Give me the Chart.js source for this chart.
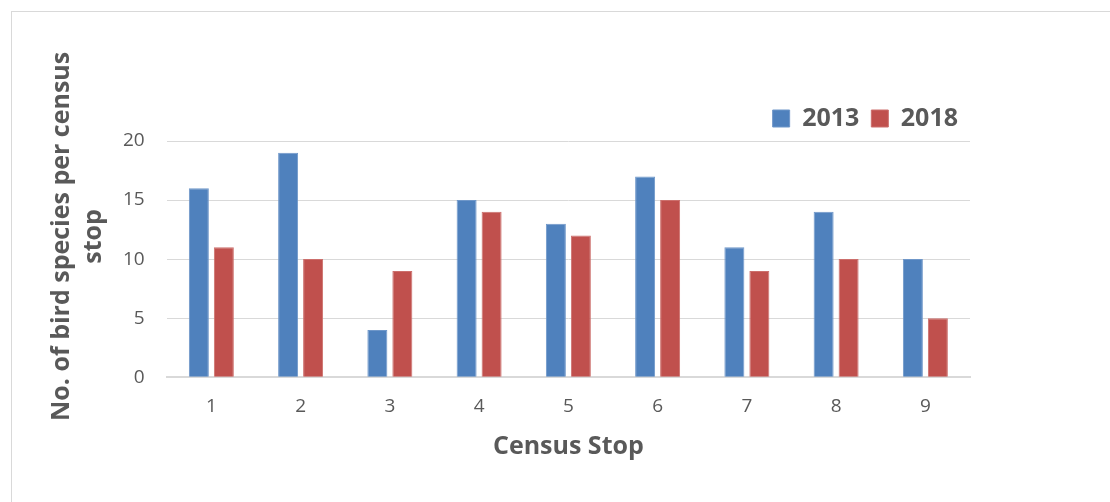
<!DOCTYPE html>
<html>
<head>
<meta charset="utf-8">
<script src="https://cdn.jsdelivr.net/npm/chart.js@4/dist/chart.umd.min.js"></script>
<style>
    html, body { margin: 0; padding: 0; background: #fff; overflow: hidden; }
    #frame { position: absolute; left: 11px; top: 11px; width: 1200px; height: 600px; border: 1px solid #d9d9d9; }
    #wrap { position: absolute; left: 0; top: 0; width: 1110px; height: 502px; }
</style>
</head>
<body>
<div id="frame"></div>
<div id="wrap"><canvas id="birdChart"></canvas></div>
<script>
// census stops and species counts
const stops = ['1', '2', '3', '4', '5', '6', '7', '8', '9'];
const species2013 = [16, 19, 4, 15, 13, 17, 11, 14, 10];
const species2018 = [11, 10, 9, 14, 12, 15, 9, 10, 5];
const yTicks = [0, 5, 10, 15, 20];

const textGrey = '#595959';
const gridGrey = '#d9d9d9';

const birdctx = document.getElementById('birdChart').getContext('2d');
const birdChart = new Chart(birdctx, {
    type: 'bar',
    data: {
        labels: stops,
        datasets: [{
            label: '2013',
            data: species2013,
            backgroundColor: '#4f81bd',
            borderColor: '#6f97c9',
            borderWidth: 1,
            categoryPercentage: 0.56,
            barPercentage: 0.8
        }, {
            label: '2018',
            data: species2018,
            backgroundColor: '#c0504d',
            borderColor: '#cc6f6c',
            borderWidth: 1,
            categoryPercentage: 0.56,
            barPercentage: 0.8
        }]
    },
    options: {
        responsive: true,
        maintainAspectRatio: false,
        animation: false,
        layout: {
            padding: { left: 46, right: 140, top: 94, bottom: 40 }
        },
        plugins: {
            tooltip: { enabled: false },
            legend: {
                display: true,
                position: 'top',
                align: 'end',
                labels: {
                    boxWidth: 17,
                    boxHeight: 17,
                    padding: 12,
                    color: textGrey,
                    font: { family: "'Open Sans', sans-serif", size: 25, weight: 'bold' }
                }
            }
        },
        scales: {
            x: {
                grid: { display: false, drawTicks: false },
                border: { display: true, color: gridGrey, width: 2 },
                ticks: {
                    color: textGrey,
                    padding: 18,
                    font: { family: "'Open Sans', sans-serif", size: 19 }
                },
                title: {
                    display: true,
                    text: 'Census Stop',
                    color: textGrey,
                    padding: { top: -4, bottom: 0 },
                    font: { family: "'Open Sans', sans-serif", size: 25, weight: 'bold' }
                }
            },
            y: {
                min: 0,
                max: 20,
                afterBuildTicks: axis => { axis.ticks = yTicks.map(v => ({ value: v })); },
                grid: { color: gridGrey, lineWidth: 1, drawTicks: false },
                border: { display: false },
                ticks: {
                    color: textGrey,
                    padding: 22,
                    font: { family: "'Open Sans', sans-serif", size: 19 }
                },
                title: {
                    display: true,
                    // leading spaces lift the title above the plot centre, as in the original
                    text: ['       No. of bird species per census', '       stop'],
                    color: textGrey,
                    padding: { top: 0, bottom: -9 },
                    font: { family: "'Open Sans', sans-serif", size: 25, weight: 'bold', lineHeight: 1.28 }
                }
            }
        }
    }
});
</script>
</body>
</html>
